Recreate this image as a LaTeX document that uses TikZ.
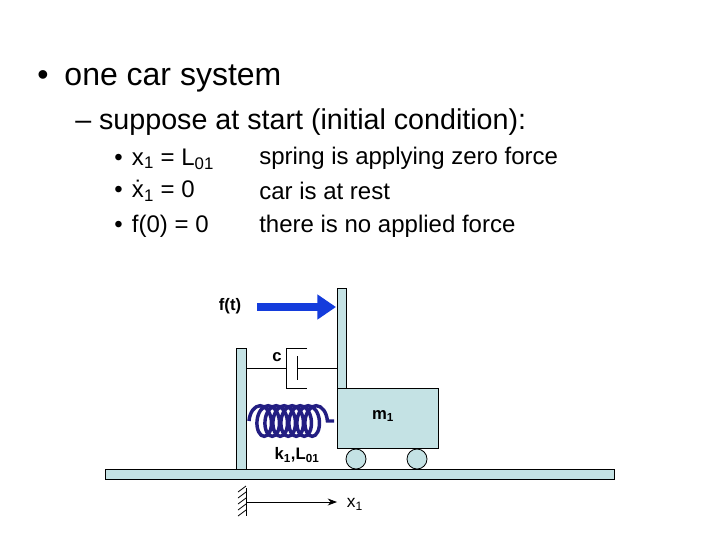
\documentclass[tikz,border=0pt]{standalone}
\usepackage{fontspec}
\setmainfont{Liberation Sans}
\usetikzlibrary{decorations.pathmorphing,arrows.meta}
\begin{document}
\begin{tikzpicture}[x=0.75pt,y=-0.75pt,
  ln/.style={line width=0.6pt},
  lab/.style={inner sep=0pt,font=\bfseries\fontsize{12.5}{14}\selectfont},
  txt/.style={anchor=west,inner sep=0pt}]
\definecolor{pc}{RGB}{196,226,228}
\tikzset{part/.style={fill=pc,draw=black,line width=0.6pt}}
\useasboundingbox (0,0) rectangle (720,540);
\node[txt,font=\fontsize{24}{28}\selectfont] (t1) at (37,78) {•\hspace{12pt}one car system};
\node[txt,font=\fontsize{21.5}{25}\selectfont] (t2) at (75,122) {– suppose at start (initial condition):};
\node[txt,font=\fontsize{18}{21}\selectfont] (b1) at (114,159) {•\hspace{7pt}x\textsubscript{1} = L\textsubscript{01}};
\node[txt,font=\fontsize{18}{21}\selectfont] (b2) at (114,191) {•\hspace{7pt}\.{x}\textsubscript{1} = 0};
\node[txt,font=\fontsize{18}{21}\selectfont] (b3) at (114,226) {•\hspace{7pt}f(0) = 0};
\node[txt,font=\fontsize{18}{21}\selectfont] (r1) at (259,158) {spring is applying zero force};
\node[txt,font=\fontsize{18}{21}\selectfont] (r2) at (259,191) {car is at rest};
\node[txt,font=\fontsize{18}{21}\selectfont] (r3) at (259,226) {there is no applied force};
% ground and posts
\draw[part] (105,469) rectangle (614,479);
\draw[part] (236,348) rectangle (246,469);
\draw[part] (337,288) rectangle (346,388);
\draw[part] (337,388) rectangle (438,448);
\node[part,circle,minimum size=15pt,inner sep=0pt] (w1) at (356,459) {};
\node[part,circle,minimum size=15pt,inner sep=0pt] (w2) at (417,459) {};
\node[lab] (m) at (383,416) {m\textsubscript{1}};
% damper
\draw[ln] (246,368) -- (286,368);
\draw[ln] (307,348) -- (286,348) -- (286,388) -- (307,388);
\draw[ln] (297,356) -- (297,380);
\draw[ln] (297,368) -- (337,368);
\node[lab] (c) at (277,357) {c};
% spring
\definecolor{sp}{RGB}{35,30,130}
\draw[sp,line width=2.6pt,decoration={coil,segment length=6pt,amplitude=11.5pt,aspect=0.6},decorate] (249,421) -- (334,421);
\node[lab] (k) at (297,455) {k\textsubscript{1},L\textsubscript{01}};
% force
\definecolor{fb}{RGB}{20,60,220}
\node[lab] (f) at (230,306) {f(t)};
\coordinate (fs) at (257,307);
\coordinate (fe) at (336,307);
\draw[fb,line width=6pt,-{Triangle[length=14pt,width=18pt]}] (fs) -- (fe);
% x1 axis
\coordinate (h) at (246,502);
\draw[ln] (246,488) -- (246,516);
\foreach \y in {492,498,504,510,516} \draw[ln] (246,\y-6) -- (238,\y);
\coordinate (xe) at (337,502);
\draw[ln,-{Stealth[length=7pt]}] (h) -- (xe);
\node[inner sep=0pt,font=\fontsize{13}{15}\selectfont] (x) at (355,504) {x\textsubscript{1}};
\end{tikzpicture}
\end{document}
